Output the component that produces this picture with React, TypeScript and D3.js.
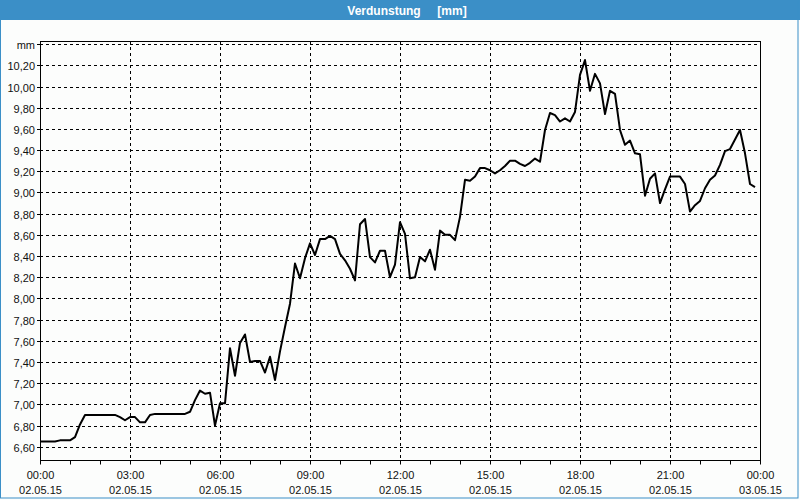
import React from "react";
import * as d3 from "d3";

const title = "Verdunstung     [mm]";
const startLabel = "02.05.15";
const xTickLabels = ["00:00", "03:00", "06:00", "09:00", "12:00", "15:00", "18:00", "21:00", "00:00"];
const xDateLabels = ["02.05.15", "02.05.15", "02.05.15", "02.05.15", "02.05.15", "02.05.15", "02.05.15", "02.05.15", "03.05.15"];
const yTicks = [6.6, 6.8, 7.0, 7.2, 7.4, 7.6, 7.8, 8.0, 8.2, 8.4, 8.6, 8.8, 9.0, 9.2, 9.4, 9.6, 9.8, 10.0, 10.2, 10.4];
const unitLabel = "mm";
// measurements every 10 minutes from 00:00
const stepMinutes = 10;
const values = [
  6.65, 6.65, 6.65, 6.65, 6.66, 6.66, 6.66, 6.69, 6.81, 6.9,
  6.9, 6.9, 6.9, 6.9, 6.9, 6.9, 6.88, 6.85, 6.88, 6.88,
  6.83, 6.83, 6.9, 6.91, 6.91, 6.91, 6.91, 6.91, 6.91, 6.91,
  6.93, 7.04, 7.13, 7.1, 7.11, 6.8, 7.01, 7.01, 7.53, 7.27,
  7.58, 7.66, 7.4, 7.41, 7.41, 7.3, 7.45, 7.23, 7.5, 7.73,
  7.95, 8.33, 8.19, 8.38, 8.52, 8.41, 8.56, 8.56, 8.59, 8.56,
  8.42, 8.36, 8.28, 8.17, 8.7, 8.75, 8.39, 8.34, 8.45, 8.45,
  8.2, 8.32, 8.72, 8.61, 8.19, 8.2, 8.39, 8.35, 8.46, 8.27,
  8.64, 8.6, 8.6, 8.55, 8.77, 9.12, 9.11, 9.15, 9.23, 9.23,
  9.21, 9.18, 9.21, 9.25, 9.3, 9.3, 9.27, 9.25, 9.28, 9.32,
  9.29, 9.59, 9.75, 9.73, 9.67, 9.7, 9.67, 9.76, 10.11, 10.25,
  9.96, 10.12, 10.03, 9.74, 9.96, 9.93, 9.59, 9.45, 9.49, 9.37,
  9.36, 8.97, 9.13, 9.18, 8.9, 9.03, 9.15, 9.15, 9.15, 9.08,
  8.82, 8.88, 8.92, 9.04, 9.12, 9.16, 9.26, 9.39, 9.41, 9.5,
  9.59, 9.37, 9.08, 9.05,
];

const W = 800;
const H = 500;
const L = 40, R = 760, T = 41, B = 460.5;
const BLUE = "#3b8fc7";
const FONT = "'Liberation Sans', Arial, sans-serif";

export default function App() {
  const x = d3.scaleLinear().domain([0, 24 * 60]).range([L, R]);
  const y = d3.scaleLinear().domain([6.47, 10.43]).range([B, T]);
  const pts: [number, number][] = values.map((v, i) => [i * stepMinutes, v]);
  const line = d3.line<[number, number]>().x((d) => x(d[0])).y((d) => y(d[1]));
  const hours = d3.range(0, 25);
  const fmt = (v: number) => v.toFixed(2).replace(".", ",");
  return (
    <div style={{ position: "fixed", left: 0, top: 0 }}>
      <svg width={W} height={H} style={{ display: "block" }}>
        <rect x={0} y={0} width={W} height={H} fill="#fcfdfc" />
        <rect x={0} y={0} width={W} height={20} fill={BLUE} />
        <rect x={0.5} y={0.5} width={797.5} height={497.5} fill="none" stroke={BLUE} strokeWidth={1} />
        <text x={407} y={15} fill="#fff" fontFamily={FONT} fontWeight="bold" fontSize={12} textAnchor="middle" style={{ whiteSpace: "pre" }}>
          {title}
        </text>
        {/* horizontal grid */}
        {yTicks.map((t, i) => (
          <g key={"y" + i}>
            <line x1={L} x2={R} y1={Math.round(y(t)) + 0.5} y2={Math.round(y(t)) + 0.5} stroke="#000" strokeDasharray="3,3" />
            <line x1={L - 3} x2={L} y1={Math.round(y(t)) + 0.5} y2={Math.round(y(t)) + 0.5} stroke="#000" />
            <text x={35} y={Math.round(y(t)) + 4.5} fontFamily={FONT} fontSize={11} textAnchor="end" fill="#111">
              {i === yTicks.length - 1 ? unitLabel : fmt(t)}
            </text>
          </g>
        ))}
        {/* vertical grid */}
        {xTickLabels.map((lab, i) => {
          const xx = Math.round(x(i * 180)) + 0.5;
          return (
            <g key={"x" + i}>
              {i > 0 && i < xTickLabels.length - 1 && (
                <line x1={xx} x2={xx} y1={T} y2={B} stroke="#000" strokeDasharray="3,3" />
              )}
              <text x={xx} y={479} fontFamily={FONT} fontSize={11} textAnchor="middle" fill="#111">
                {lab}
              </text>
              <text x={xx} y={494} fontFamily={FONT} fontSize={11} textAnchor="middle" fill="#111">
                {i === 0 ? startLabel : xDateLabels[i]}
              </text>
            </g>
          );
        })}
        {hours.map((h) => {
          const xx = Math.round(x(h * 60)) + 0.5;
          return <line key={"h" + h} x1={xx} x2={xx} y1={B} y2={B + 4} stroke="#000" />;
        })}
        <rect x={L + 0.5} y={T + 0.5} width={R - L} height={B - T - 0.5} fill="none" stroke="#000" />
        <path d={line(pts) || ""} fill="none" stroke="#000" strokeWidth={2} strokeLinejoin="round" />
      </svg>
    </div>
  );
}
